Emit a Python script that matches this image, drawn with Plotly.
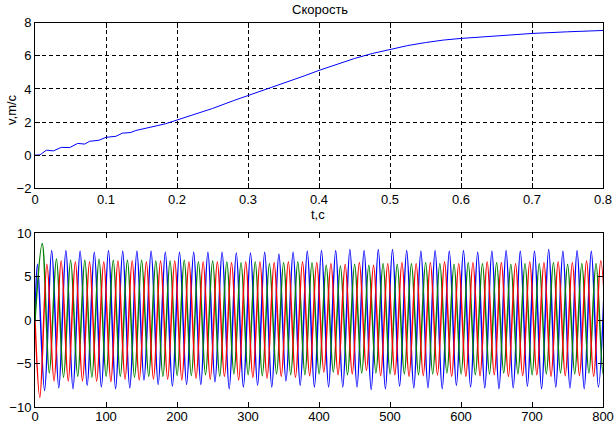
import plotly.graph_objects as go

# --- верхний график: скорость ---
t_speed = [0, 0.007, 0.016, 0.026, 0.037, 0.049, 0.06, 0.07, 0.077, 0.09, 0.1,
           0.114, 0.123, 0.135, 0.142, 0.156, 0.172, 0.184, 0.198, 0.22, 0.25,
           0.28, 0.3, 0.33, 0.35, 0.38, 0.4, 0.43, 0.45, 0.475, 0.5, 0.525, 0.55,
           0.575, 0.6, 0.65, 0.7, 0.75, 0.8]
v_speed = [0, 0.02, 0.3, 0.26, 0.47, 0.46, 0.71, 0.67, 0.84, 0.9, 1.08,
           1.14, 1.33, 1.37, 1.49, 1.61, 1.78, 1.9, 2.1, 2.42, 2.82,
           3.3, 3.6, 4.02, 4.32, 4.8, 5.12, 5.55, 5.84, 6.14, 6.38, 6.62, 6.8,
           6.95, 7.05, 7.21, 7.35, 7.45, 7.53]

# --- нижний график: фазные токи (экстремумы по периодам) ---
PERIOD = 20
blue_peak_t0, blue_trough_t0 = 3.5, 13.5
red_peak_t0, red_trough_t0 = 16.83, 6.83
green_peak_t0, green_trough_t0 = 10.17, 20.17

blue_peaks = [6.4, 8.0, 8.0, 7.9, 7.8, 8.0, 7.9, 7.9, 7.9, 7.8, 7.8, 7.8, 7.8, 7.8,
              7.7, 7.7, 7.8, 7.6, 7.8, 7.9, 8.0, 8.0, 8.1, 8.0, 8.1, 8.1, 8.0, 7.9,
              8.0, 7.9, 8.0, 7.8, 7.9, 8.0, 7.9, 7.9, 8.1, 7.9, 8.0, 7.9, 7.9]
blue_troughs = [-8.1, -7.8, -7.9, -7.5, -7.7, -7.9, -7.8, -6.9, -7.4, -7.6, -7.4,
                -7.4, -7.1, -7.9, -7.7, -7.5, -7.7, -7.0, -7.5, -7.7, -7.7, -7.7,
                -7.7, -8.0, -7.9, -7.6, -7.8, -7.8, -7.9, -7.5, -7.7, -7.8, -7.9,
                -7.8, -7.6, -7.9, -7.7, -7.8, -7.9, -7.7]
red_peaks = [6.4, 6.8, 6.7, 6.7, 6.7, 6.8, 6.8, 6.7, 6.8, 6.8, 6.7, 6.7, 6.7, 6.6,
             6.7, 6.7, 6.6, 6.7, 6.7, 6.6, 6.5, 6.4, 6.6, 6.3, 6.5, 6.6, 6.5, 6.6,
             6.7, 6.5, 6.6, 6.7, 6.6, 6.5, 6.7, 6.6, 6.7, 6.6, 6.8, 6.8]
red_troughs = [-8.9, -7.0, -7.0, -7.0, -7.05, -7.1, -6.8, -6.9, -6.8, -6.8, -6.9,
               -6.7, -6.8, -6.5, -6.9, -6.6, -6.7, -6.5, -6.6, -6.4, -6.0, -6.3,
               -6.2, -5.8, -6.4, -6.3, -6.5, -6.4, -6.3, -6.5, -6.5, -6.4, -6.3,
               -6.5, -6.4, -6.3, -6.5, -6.4, -6.4, -6.5, -6.4]
green_peaks = [8.8, 7.05, 6.9, 6.9, 7.0, 6.9, 6.9, 6.9, 6.8, 6.8, 6.9, 6.7, 6.8,
               6.7, 6.6, 6.7, 6.5, 6.6, 6.7, 6.6, 6.3, 6.2, 6.4, 6.3, 6.5, 6.4,
               6.5, 6.6, 6.5, 6.4, 6.6, 6.5, 6.6, 6.4, 6.5, 6.5, 6.6, 6.4, 6.5,
               6.5, 6.5]
green_troughs = [-6.1, -6.6, -6.5, -6.6, -6.5, -6.5, -6.6, -6.5, -6.5, -6.4, -6.4,
                 -6.3, -6.5, -6.2, -6.3, -6.4, -6.2, -6.3, -6.3, -6.2, -6.0, -6.3,
                 -6.1, -6.1, -6.2, -6.2, -6.3, -6.2, -6.1, -6.2, -6.3, -6.2, -6.1,
                 -6.2, -6.3, -6.2, -6.1, -6.2, -6.1, -6.2]


def phase_points(peaks, peak_t0, troughs, trough_t0):
    pts = [(0.0, 0.0)]
    pts += [(peak_t0 + PERIOD * k, v) for k, v in enumerate(peaks)]
    pts += [(trough_t0 + PERIOD * k, v) for k, v in enumerate(troughs)]
    pts.sort()
    return [p[0] for p in pts], [p[1] for p in pts]


W, H = 616, 424
FONT = "Liberation Sans, Arial, sans-serif"

fig = go.Figure()

fig.add_trace(go.Scatter(x=t_speed, y=v_speed, mode="lines",
                         line=dict(color="#0000ff", width=1),
                         xaxis="x", yaxis="y", showlegend=False))

phases = [
    ("#0000ff", blue_peaks, blue_peak_t0, blue_troughs, blue_trough_t0),
    ("#008000", green_peaks, green_peak_t0, green_troughs, green_trough_t0),
    ("#ff0000", red_peaks, red_peak_t0, red_troughs, red_trough_t0),
]
for color, pk, pk0, tr, tr0 in phases:
    xs, ys = phase_points(pk, pk0, tr, tr0)
    fig.add_trace(go.Scatter(x=xs, y=ys, mode="lines",
                             line=dict(color=color, width=1.5, shape="spline"),
                             xaxis="x2", yaxis="y2", showlegend=False))

axis_common = dict(showline=True, linecolor="black", linewidth=1, mirror="allticks",
                   ticks="inside", ticklen=5, tickcolor="black", zeroline=False,
                   automargin=False,
                   tickfont=dict(family=FONT, size=13, color="black"))

x_dom = [35 / W, 603 / W]


def label(text, px, py, angle=0):
    return dict(text=text, x=px / W, y=1 - py / H, xref="paper", yref="paper",
                xanchor="center", yanchor="middle", textangle=angle,
                showarrow=False, font=dict(family=FONT, size=13, color="black"))


fig.update_layout(
    width=W, height=H,
    margin=dict(l=0, r=0, t=0, b=0),
    paper_bgcolor="white", plot_bgcolor="white",
    xaxis=dict(domain=x_dom, range=[0, 0.8], dtick=0.1, tickformat="~g",
               showgrid=True, gridcolor="black", gridwidth=1, griddash="4px,3px",
               ticklabelstandoff=-1, anchor="y", **axis_common),
    yaxis=dict(domain=[1 - 188.3 / H, 1 - 22.7 / H], range=[-2, 8], dtick=2,
               showgrid=True, gridcolor="black", gridwidth=1, griddash="4px,3px",
               anchor="x", **axis_common),
    xaxis2=dict(domain=x_dom, range=[0, 800], dtick=100, showgrid=False,
                ticklabelstandoff=-3, anchor="y2", **axis_common),
    yaxis2=dict(domain=[1 - 407 / H, 1 - 233 / H], range=[-10, 10], dtick=5,
                showgrid=False, anchor="x2", **axis_common),
    annotations=[
        label("Скорость", 320, 9),
        label("t,c", 318, 214),
        label("v,m/c", 11, 110, -90),
    ],
)

fig.write_html("out.html", config={"displayModeBar": False},
               post_script="document.body.style.margin='0';"
                           "document.body.style.overflow='hidden';")
